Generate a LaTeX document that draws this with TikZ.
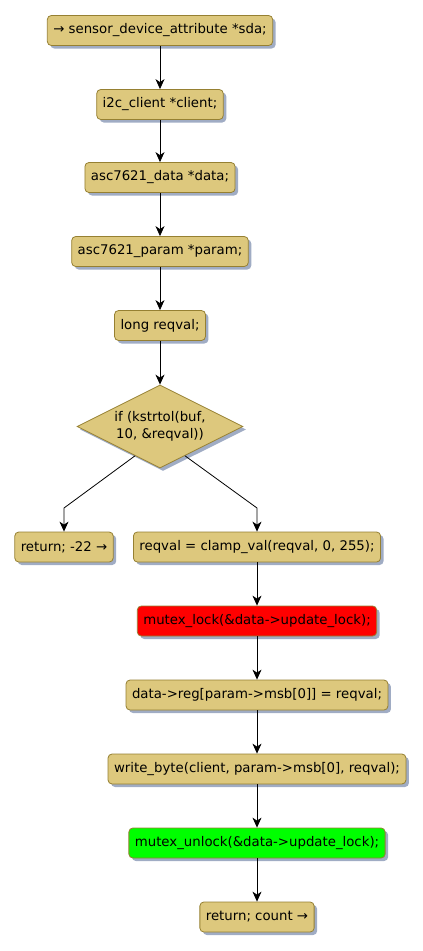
\documentclass[tikz,border=0pt]{standalone}
\usepackage{fontspec}
\setmainfont{DejaVu Sans}
\usetikzlibrary{arrows.meta,shapes.geometric,shadows,calc}
\definecolor{boxfill}{RGB}{221,200,125}
\definecolor{boxline}{RGB}{150,128,50}
\definecolor{shadowc}{RGB}{160,172,196}
\definecolor{lockred}{RGB}{255,0,0}
\definecolor{unlockgreen}{RGB}{0,255,0}
\tikzset{
  x=1pt,y=-1pt,
  act/.style={draw=boxline,fill=boxfill,rounded corners=4pt,minimum height=30pt,
    inner xsep=6pt,inner ysep=0pt,font=\fontsize{13.3}{15}\selectfont,line width=0.8pt,
    drop shadow={shadow xshift=3pt,shadow yshift=-3pt,fill=shadowc,opacity=1}},
  cond/.style={diamond,aspect=2,draw=boxline,fill=boxfill,line width=0.8pt,
    minimum width=166pt,minimum height=83pt,inner sep=0pt,align=center,
    font=\fontsize{13.3}{17}\selectfont,
    drop shadow={shadow xshift=3pt,shadow yshift=-3pt,fill=shadowc,opacity=1}},
  flow/.style={-{Stealth[length=10pt,width=9pt,inset=3pt]},line width=0.8pt}
}
\begin{document}
\begin{tikzpicture}
\useasboundingbox (0,0) rectangle (423,951);
\node[act] (n1) at (160,30.5) {→ sensor\_device\_attribute *sda;};
\node[act] (n2) at (160,104.5) {i2c\_client *client;};
\node[act] (n3) at (160,177.5) {asc7621\_data *data;};
\node[act] (n4) at (160,251.5) {asc7621\_param *param;};
\node[act] (n5) at (160,325.5) {long reqval;};
\node[cond] (d) at (160,426.5) {if (kstrtol(buf,\\10, \&reqval))};
\node[act] (r1) at (64,547) {return; -22 →};
\node[act] (n6) at (257,547) {reqval = clamp\_val(reqval, 0, 255);};
\node[act,fill=lockred] (n7) at (257,621) {mutex\_lock(\&data->update\_lock);};
\node[act] (n8) at (257,695) {data->reg[param->msb[0]] = reqval;};
\node[act] (n9) at (257,769) {write\_byte(client, param->msb[0], reqval);};
\node[act,fill=unlockgreen] (n10) at (257,843) {mutex\_unlock(\&data->update\_lock);};
\node[act] (r2) at (257,917) {return; count →};
\coordinate (lk) at (64,508);
\coordinate (rk) at (257,508);
\draw[flow] (n1) -- (n2);
\draw[flow] (n2) -- (n3);
\draw[flow] (n3) -- (n4);
\draw[flow] (n4) -- (n5);
\draw[flow] (n5) -- (d);
\draw[flow] ($(d.west)!0.7!(d.south)$) -- (lk) -- (r1.north);
\draw[flow] ($(d.east)!0.7!(d.south)$) -- (rk) -- (n6.north);
\draw[flow] (n6) -- (n7);
\draw[flow] (n7) -- (n8);
\draw[flow] (n8) -- (n9);
\draw[flow] (n9) -- (n10);
\draw[flow] (n10) -- (r2);
\end{tikzpicture}
\end{document}
